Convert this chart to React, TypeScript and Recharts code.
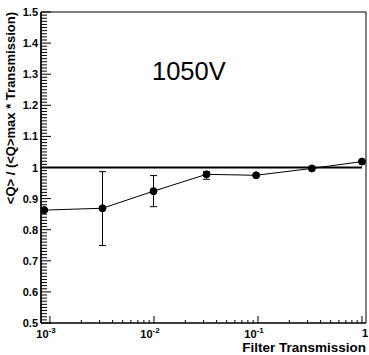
import React from 'react'
import {
  ComposedChart,
  Line,
  XAxis,
  YAxis,
  ErrorBar,
  ReferenceLine,
  ReferenceArea,
} from 'recharts'

// filter transmission (x) and normalised charge (y)
const transmission = [0.00088, 0.0032, 0.0099, 0.032, 0.096, 0.33, 1.0]
const ratio = [0.863, 0.869, 0.924, 0.978, 0.975, 0.997, 1.019]
const errLow = [null, 0.12, 0.05, 0.016, null, null, null]
const errHigh = [null, 0.1175, 0.05, 0.0085, null, null, null]

const xMajorTicks = [0.001, 0.01, 0.1, 1]
const xMajorLabels = [
  { base: '10', exp: '-3' },
  { base: '10', exp: '-2' },
  { base: '10', exp: '-1' },
  { base: '1', exp: '' },
]
const yMajorTicks = [0.5, 0.6, 0.7, 0.8, 0.9, 1.0, 1.1, 1.2, 1.3, 1.4, 1.5]
const yMajorLabels = ['0.5', '0.6', '0.7', '0.8', '0.9', '1', '1.1', '1.2', '1.3', '1.4', '1.5']

const X_MIN = 0.00082
const X_MAX = 1.093
const W = 369
const H = 355
const PLOT_LEFT = 41
const PLOT_BOTTOM = 323

// log minor ticks 2..9 in each decade, plus majors
const xTicks: number[] = []
xMajorTicks.forEach((m) => {
  xTicks.push(m)
  if (m < 1) for (let k = 2; k <= 9; k++) xTicks.push(+(m * k).toPrecision(3))
})
const yTicks: number[] = []
for (let i = 0; i <= 100; i++) yTicks.push(+(0.5 + i * 0.01).toFixed(2))

const data = transmission.map((x, i) => ({
  x,
  y: ratio[i],
  err: errLow[i] == null ? null : [errLow[i], errHigh[i]],
}))

const FONT = '"Liberation Sans", Arial, Helvetica, sans-serif'

function XTick(props: any) {
  const { x, payload } = props
  const idx = xMajorTicks.findIndex((m) => Math.abs(m - payload.value) < 1e-9)
  const major = idx >= 0
  const len = major ? 7 : 3
  const lab = major ? xMajorLabels[idx] : null
  return (
    <g>
      <line x1={x} y1={PLOT_BOTTOM} x2={x} y2={PLOT_BOTTOM - len} stroke="#000" strokeWidth={1} />
      {lab && (
        <text
          x={lab.exp ? x - 4 : x + 3}
          y={PLOT_BOTTOM + (lab.exp ? 15 : 14)}
          textAnchor="middle"
          fontFamily={FONT}
          fontWeight="bold"
          fontSize={11}
          fill="#000"
        >
          {lab.base}
          {lab.exp && (
            <tspan dy={-5} fontSize={8}>
              {lab.exp}
            </tspan>
          )}
        </text>
      )}
    </g>
  )
}

function YTick(props: any) {
  const { y, payload } = props
  const idx = yMajorTicks.findIndex((m) => Math.abs(m - payload.value) < 1e-9)
  const major = idx >= 0
  const len = major ? 10 : 6
  return (
    <g>
      <line x1={PLOT_LEFT} y1={y} x2={PLOT_LEFT + len} y2={y} stroke="#000" strokeWidth={1} />
      {major && (
        <text
          x={PLOT_LEFT - 3}
          y={y + 4}
          textAnchor="end"
          fontFamily={FONT}
          fontWeight="bold"
          fontSize={11}
          fill="#000"
        >
          {yMajorLabels[idx]}
        </text>
      )}
    </g>
  )
}

export default function App() {
  return (
    <div style={{ position: 'absolute', left: 0, top: 0, width: W, height: H, background: '#fff' }}>
      <ComposedChart width={W} height={H} data={data} margin={{ top: 12, right: 3, bottom: 0, left: 0 }}>
        <XAxis
          dataKey="x"
          type="number"
          scale="log"
          domain={[X_MIN, X_MAX]}
          allowDataOverflow
          ticks={xTicks}
          interval={0}
          tickLine={false}
          tick={<XTick />}
          axisLine={{ stroke: '#000', strokeWidth: 1 }}
          height={32}
        />
        <YAxis
          type="number"
          domain={[0.5, 1.5]}
          ticks={yTicks}
          interval={0}
          tickLine={false}
          tick={<YTick />}
          axisLine={{ stroke: '#000', strokeWidth: 1.5 }}
          width={41}
        />
        <ReferenceArea x1={X_MIN} x2={X_MAX} y1={0.5} y2={1.5} fill="none" stroke="#000" strokeWidth={1} />
        <ReferenceLine
          segment={[
            { x: X_MIN, y: 1 },
            { x: 1, y: 1 },
          ]}
          stroke="#000"
          strokeWidth={2}
        />
        <Line
          dataKey="y"
          type="linear"
          stroke="#000"
          strokeWidth={1}
          dot={{ r: 3.5, fill: '#000', stroke: '#000', strokeWidth: 1 }}
          isAnimationActive={false}
        >
          <ErrorBar dataKey="err" direction="y" width={3.5} stroke="#000" strokeWidth={1} isAnimationActive={false} />
        </Line>
      </ComposedChart>
      <svg
        width={W}
        height={H}
        style={{ position: 'absolute', left: 0, top: 0, pointerEvents: 'none' }}
      >
        <text x={152} y={80} fontFamily={FONT} fontSize={25.5} fill="#000">
          1050V
        </text>
        <text
          transform="rotate(-90)"
          x={-12}
          y={15}
          textAnchor="end"
          fontFamily={FONT}
          fontWeight="bold"
          fontSize={13}
          fill="#000"
        >
          {'<Q> / (<Q>max * Transmission)'}
        </text>
        <text
          x={366}
          y={352}
          textAnchor="end"
          fontFamily={FONT}
          fontWeight="bold"
          fontSize={13.5}
          fill="#000"
        >
          Filter Transmission
        </text>
      </svg>
    </div>
  )
}
